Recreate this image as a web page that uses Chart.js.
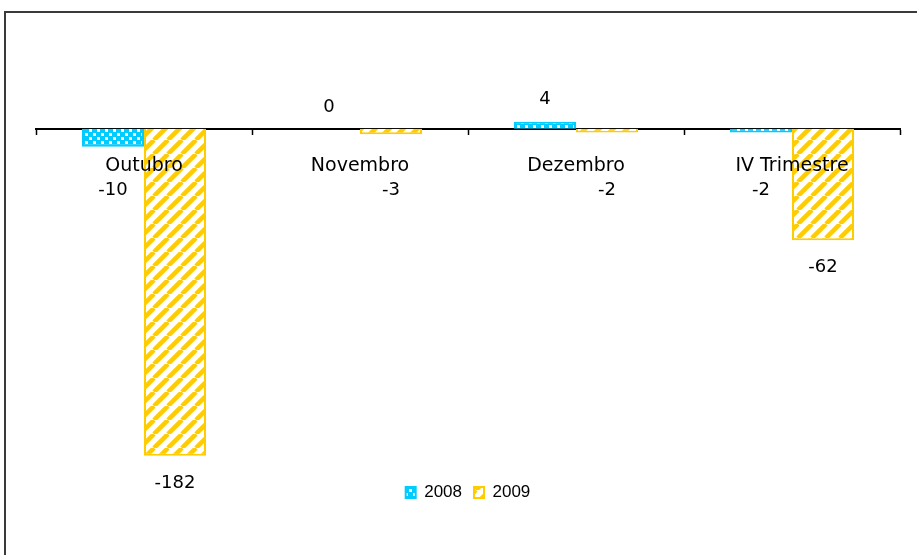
<!DOCTYPE html>
<html>
<head>
<meta charset="utf-8">
<script src="https://cdn.jsdelivr.net/npm/chart.js@4"></script>
<style>
  html, body { margin:0; padding:0; background:#fff; overflow:hidden; }
  #frame { position:absolute; left:4px; top:11px; width:2000px; height:2000px; border:2px solid #3a3a3a; }
  #c { position:absolute; left:0; top:0; }
</style>
</head>
<body>
<div id="frame"></div>
<canvas id="c" width="917" height="555"></canvas>
<script>
// --- data ---
const CATEGORIES = ["Outubro", "Novembro", "Dezembro", "IV Trimestre"];
const SERIES_NAMES = ["2008", "2009"];
const VALUES_2008 = [-10, 0, 4, -2];
const VALUES_2009 = [-182, -3, -2, -62];
const Y_MIN = -191;
const Y_MAX = 40;

// fill patterns (dots for 2008, diagonal stripes for 2009)
function dotPattern(){
  const c = document.createElement('canvas');
  c.width = 8; c.height = 8;
  const g = c.getContext('2d');
  g.fillStyle = '#00CCFF'; g.fillRect(0,0,8,8);
  g.fillStyle = '#fff';
  g.fillRect(1,1,3,3); g.fillRect(5,5,3,3);
  return g.createPattern(c, 'repeat');
}
function stripePattern(){
  const s = 14;
  const c = document.createElement('canvas');
  c.width = s; c.height = s;
  const g = c.getContext('2d');
  g.fillStyle = '#fff'; g.fillRect(0,0,s,s);
  g.strokeStyle = '#FFCC00'; g.lineWidth = 4.5;
  g.beginPath();
  [-s, 0, s].forEach(k => { g.moveTo(k, s); g.lineTo(k + s, 0); });
  g.stroke();
  return g.createPattern(c, 'repeat');
}

// value labels under/over each bar
const valueLabels = {
  id: 'valueLabels',
  afterDraw(chart){
    const ctx = chart.ctx;
    ctx.save();
    ctx.font = '18px "DejaVu Sans"';
    ctx.fillStyle = '#000';
    ctx.textAlign = 'center';
    ctx.textBaseline = 'middle';
    chart.data.datasets.forEach((ds, i) => {
      chart.getDatasetMeta(i).data.forEach((bar, j) => {
        const v = ds.data[j];
        const y = v >= 0 ? bar.y - 22 : Math.max(bar.y + 27, 190);
        ctx.fillText(String(v), bar.x, y);
      });
    });
    ctx.restore();
  }
};

const ctx = document.getElementById('c').getContext('2d');
new Chart(ctx, {
  type: 'bar',
  data: {
    labels: CATEGORIES,
    datasets: [
      { label: SERIES_NAMES[0], data: VALUES_2008, backgroundColor: dotPattern(), borderColor: '#00CCFF', borderWidth: 2 },
      { label: SERIES_NAMES[1], data: VALUES_2009, backgroundColor: stripePattern(), borderColor: '#FFCC00', borderWidth: 2 }
    ]
  },
  options: {
    responsive: false,
    animation: false,
    categoryPercentage: 0.574,
    barPercentage: 1,
    layout: { padding: { left: 36, right: 17, top: 57, bottom: 44 } },
    plugins: {
      tooltip: { enabled: false },
      legend: {
        position: 'bottom',
        labels: {
          color: '#000',
          font: { family: '"Liberation Sans", Arial', size: 17 },
          boxWidth: 10, boxHeight: 11, padding: 12
        }
      }
    },
    scales: {
      x: {
        position: { y: 0 },
        grid: { drawOnChartArea: false, drawTicks: true, tickLength: 5, tickColor: '#000', tickWidth: 1.5, offset: true },
        border: { display: true, color: '#000', width: 2 },
        ticks: { z: 1, color: '#000', font: { family: '"DejaVu Sans"', size: 19 }, padding: 21, maxRotation: 0, autoSkip: false }
      },
      y: {
        display: false,
        min: Y_MIN, max: Y_MAX
      }
    }
  },
  plugins: [valueLabels]
});
</script>
</body>
</html>
